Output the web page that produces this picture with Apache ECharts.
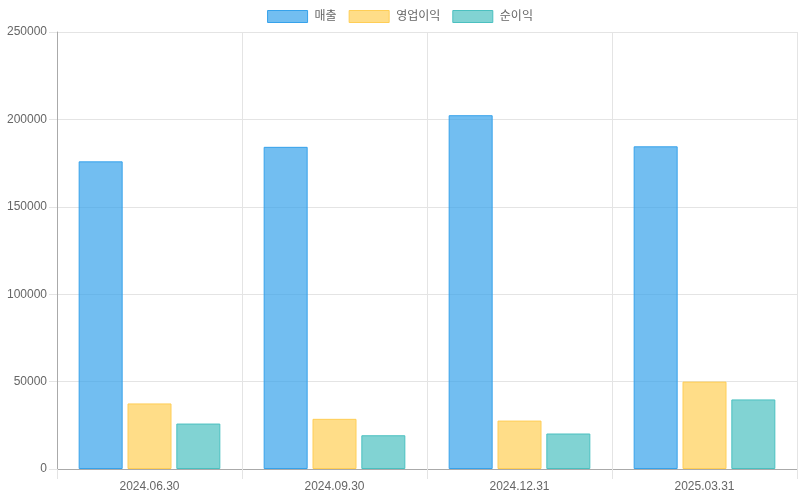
<!DOCTYPE html>
<html>
<head>
<meta charset="utf-8">
<script src="https://cdn.jsdelivr.net/npm/echarts@6/dist/echarts.min.js"></script>
<style>
  html, body { margin: 0; padding: 0; background: #fff; }
  #chart { width: 800px; height: 500px; }
</style>
</head>
<body>
<div id="chart"></div>
<script>
  const categories = ['2024.06.30', '2024.09.30', '2024.12.31', '2025.03.31'];
  const revenue = [176000, 184300, 202400, 184600];
  const operatingProfit = [37500, 28700, 27700, 50000];
  const netProfit = [26000, 19300, 20300, 39800];

  const font = '"Liberation Sans", "Noto Sans CJK KR", Arial, sans-serif';

  const chart = echarts.init(document.getElementById('chart'));

  function bar(name, data, fill, border) {
    return {
      name: name,
      type: 'bar',
      data: data,
      barWidth: 44,
      barGap: '11%',
      itemStyle: { color: fill, borderColor: border, borderWidth: 1 },
      emphasis: { disabled: true }
    };
  }

  chart.setOption({
    animation: false,
    textStyle: { fontFamily: font },
    legend: {
      top: 5,
      left: 'center',
      itemWidth: 40,
      itemHeight: 12,
      itemGap: 12,
      icon: 'rect',
      itemStyle: { borderWidth: 1 },
      textStyle: { fontSize: 12, color: '#666', fontFamily: font, padding: [0, 0, 0, 2] }
    },
    grid: { left: 57, right: 3, top: 32, bottom: 31, containLabel: false, show: false },
    xAxis: {
      type: 'category',
      data: categories,
      axisLine: { lineStyle: { color: '#aaa' } },
      axisTick: { show: true, length: 10, lineStyle: { color: '#e4e4e4' } },
      axisLabel: { color: '#666', fontSize: 12, margin: 12 },
      splitLine: { show: true, lineStyle: { color: '#e4e4e4' } }
    },
    yAxis: {
      type: 'value',
      min: 0,
      max: 250000,
      interval: 50000,
      axisLine: { show: true, lineStyle: { color: '#aaa' } },
      axisTick: { show: true, length: 8, lineStyle: { color: '#e4e4e4' } },
      axisLabel: { color: '#666', fontSize: 12, margin: 10, formatter: v => String(v) },
      splitLine: { show: true, lineStyle: { color: '#e4e4e4' } }
    },
    series: [
      bar('매출', revenue, 'rgba(54,162,235,0.7)', 'rgb(54,162,235)'),
      bar('영업이익', operatingProfit, 'rgba(255,206,86,0.7)', 'rgb(255,206,86)'),
      bar('순이익', netProfit, 'rgba(75,192,192,0.7)', 'rgb(75,192,192)')
    ]
  });

  window.addEventListener('resize', () => chart.resize());
</script>
</body>
</html>
